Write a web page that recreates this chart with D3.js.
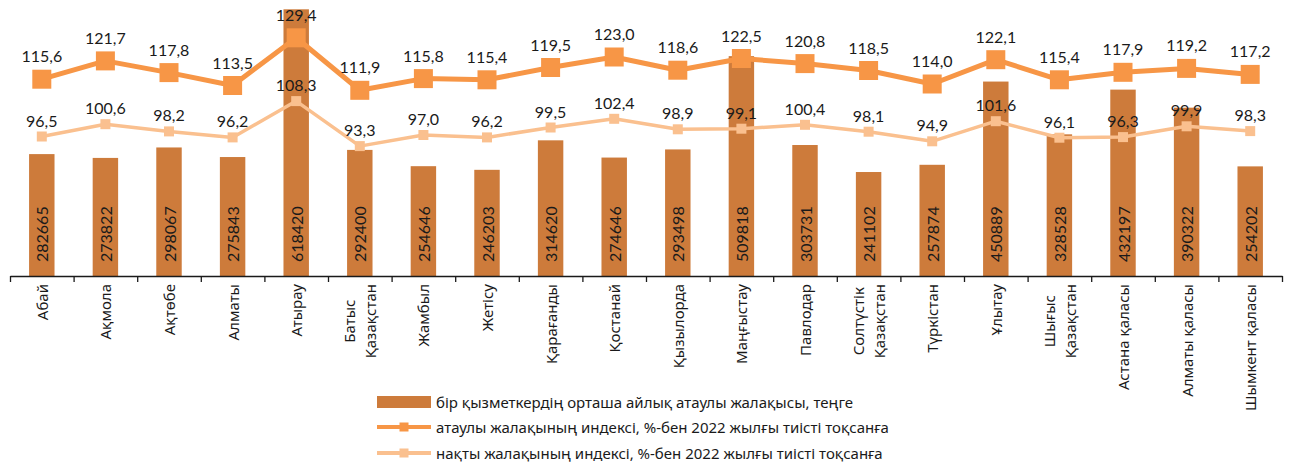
<!DOCTYPE html>
<html>
<head>
<meta charset="utf-8">
<script src="https://cdn.jsdelivr.net/npm/d3@7"></script>
<style>
  body { margin: 0; background: #fff; }
  svg text { fill: #1a1a1a; }
</style>
</head>
<body>
<script>

// SVG size
var width = 1290,
    height = 463;

// Data
var regions = ["Абай", "Ақмола", "Ақтөбе", "Алматы", "Атырау", "Батыс\nҚазақстан",
               "Жамбыл", "Жетісу", "Қарағанды", "Қостанай", "Қызылорда", "Маңғыстау",
               "Павлодар", "Солтүстік\nҚазақстан", "Түркістан", "Ұлытау", "Шығыс\nҚазақстан",
               "Астана қаласы", "Алматы қаласы", "Шымкент қаласы"];

var wage = [282665, 273822, 298067, 275843, 618420, 292400, 254646, 246203, 314620, 274646,
            293498, 509818, 303731, 241102, 257874, 450889, 328528, 432197, 390322, 254202];

var nominalIndex = [115.6, 121.7, 117.8, 113.5, 129.4, 111.9, 115.8, 115.4, 119.5, 123.0,
                    118.6, 122.5, 120.8, 118.5, 114.0, 122.1, 115.4, 117.9, 119.2, 117.2];

var realIndex = [96.5, 100.6, 98.2, 96.2, 108.3, 93.3, 97.0, 96.2, 99.5, 102.4,
                 98.9, 99.1, 100.4, 98.1, 94.9, 101.6, 96.1, 96.3, 99.9, 98.3];

var legendNames = ["бір қызметкердің орташа айлық атаулы жалақысы, теңге",
                   "атаулы жалақының индексі, %-бен 2022 жылғы тиісті тоқсанға",
                   "нақты жалақының индексі, %-бен 2022 жылғы тиісті тоқсанға"];

// Colours
var barColor = "#CD7B3B",
    nominalColor = "#F79646",
    realColor = "#FAC08F";

var numFont = "Lato, 'Noto Sans', sans-serif",
    textFont = "'Noto Sans', sans-serif";

var left = 10, right = 1282, baseY = 276;

var svg = d3.select("body").append("svg")
  .attr("width", width)
  .attr("height", height);

// Scales
var x = d3.scaleBand()
  .domain(d3.range(regions.length))
  .range([left, right]);

var barWidth = x.bandwidth() * 0.4;
function cx(i) { return x(i) + x.bandwidth() / 2; }

var yBar = d3.scaleLinear()
  .domain([0, 640000])
  .range([baseY, 0]);

var yIdx = d3.scaleLinear()
  .domain([50, 142])
  .range([baseY, 0]);

var commaFormat = function(v) { return d3.format(".1f")(v).replace(".", ","); };

// Bars
svg.append("g").selectAll("rect")
  .data(wage)
  .enter()
  .append("rect")
    .attr("x", function(d, i) { return cx(i) - barWidth / 2; })
    .attr("y", function(d) { return yBar(d); })
    .attr("width", barWidth)
    .attr("height", function(d) { return baseY - yBar(d); })
    .attr("fill", barColor);

// Bar labels (rotated)
svg.append("g").selectAll("text")
  .data(wage)
  .enter()
  .append("text")
    .attr("transform", function(d, i) { return "translate(" + cx(i) + ",262) rotate(-90)"; })
    .attr("dominant-baseline", "central")
    .attr("font-family", numFont)
    .attr("font-size", 16)
    .text(function(d) { return d; });

// X axis, ticks between categories
var boundary = d3.scaleLinear().domain([0, regions.length]).range([left, right]);
var xAxis = d3.axisBottom(boundary)
  .tickValues(d3.range(regions.length + 1))
  .tickSize(6)
  .tickSizeOuter(0)
  .tickFormat("");

svg.append("g")
  .attr("transform", "translate(0," + baseY + ")")
  .call(xAxis)
  .call(function(g) {
    g.select(".domain").attr("stroke", "#1a1a1a").attr("stroke-width", 1.3);
    g.selectAll(".tick line").attr("stroke", "#1a1a1a").attr("stroke-width", 1.3);
  });

// Category labels, rotated, lines centred on each other
regions.forEach(function(name, i) {
  var lines = name.split("\n");
  var g = svg.append("g");
  var texts = lines.map(function(line) {
    return g.append("text")
      .attr("font-family", textFont)
      .attr("font-size", 15)
      .attr("text-anchor", "middle")
      .attr("dominant-baseline", "central")
      .text(line);
  });
  var maxLen = d3.max(texts, function(t) { return t.node().getComputedTextLength(); });
  var yMid = 284 + maxLen / 2;
  texts.forEach(function(t, k) {
    var off = (k - (lines.length - 1) / 2) * 21;
    t.attr("transform", "translate(" + (cx(i) + off) + "," + yMid + ") rotate(-90)");
  });
});

// Lines
function drawLine(values, color, lineW, markerSize, labelOffset) {
  var line = d3.line()
    .x(function(d, i) { return cx(i); })
    .y(function(d) { return yIdx(d); });

  var g = svg.append("g");
  g.append("path")
    .datum(values)
    .attr("d", line)
    .attr("fill", "none")
    .attr("stroke", color)
    .attr("stroke-width", lineW)
    .attr("stroke-linejoin", "round");

  g.selectAll("rect")
    .data(values)
    .enter()
    .append("rect")
      .attr("x", function(d, i) { return cx(i) - markerSize / 2; })
      .attr("y", function(d) { return yIdx(d) - markerSize / 2; })
      .attr("width", markerSize)
      .attr("height", markerSize)
      .attr("fill", color);

  return function() {
    svg.append("g").selectAll("text")
      .data(values)
      .enter()
      .append("text")
        .attr("x", function(d, i) { return cx(i); })
        .attr("y", function(d) { return yIdx(d) - labelOffset; })
        .attr("text-anchor", "middle")
        .attr("font-family", numFont)
        .attr("font-size", 16)
        .text(commaFormat);
  };
}

var nominalLabels = drawLine(nominalIndex, nominalColor, 5, 19, 17);
var realLabels = drawLine(realIndex, realColor, 3.5, 10, 10);
nominalLabels();
realLabels();

// Legend
var legend = svg.append("g");
var rowY = [402, 427, 453];

legend.append("rect")
  .attr("x", 377).attr("y", rowY[0] - 6)
  .attr("width", 54).attr("height", 12)
  .attr("fill", barColor);

[[nominalColor, 4, 9], [realColor, 4, 9]].forEach(function(s, k) {
  var yy = rowY[k + 1];
  legend.append("line")
    .attr("x1", 377).attr("x2", 431)
    .attr("y1", yy).attr("y2", yy)
    .attr("stroke", s[0]).attr("stroke-width", s[1]);
  legend.append("rect")
    .attr("x", 404 - s[2] / 2).attr("y", yy - s[2] / 2)
    .attr("width", s[2]).attr("height", s[2])
    .attr("fill", s[0]);
});

legend.selectAll("text")
  .data(legendNames)
  .enter()
  .append("text")
    .attr("x", 436)
    .attr("y", function(d, i) { return rowY[i]; })
    .attr("dominant-baseline", "central")
    .attr("font-family", textFont)
    .attr("font-size", 15)
    .text(function(d) { return d; });

</script>
</body>
</html>
